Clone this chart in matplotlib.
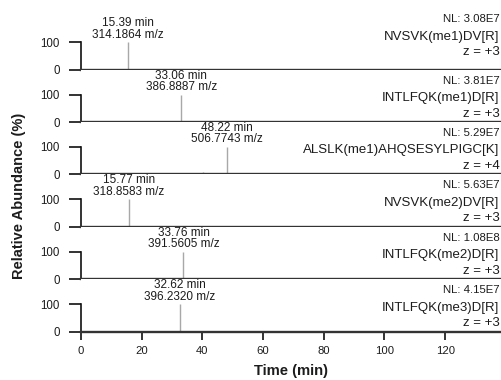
import matplotlib
matplotlib.use("Agg")
import matplotlib.pyplot as plt
from matplotlib import font_manager

plt.rcParams['font.family'] = ['Liberation Sans', 'DejaVu Sans']
_names = {f.name for f in font_manager.fontManager.ttflist}
narrow = 'Liberation Sans Narrow' if 'Liberation Sans Narrow' in _names else 'Liberation Sans'

# ---- data ----
peak_times = [[15.39], [33.06], [48.22, 40.2], [15.77], [33.76], [32.62, 11.7]]
peak_heights = [[100], [100], [100, 8], [100], [100], [100, 1.5]]
ann_time = ["15.39 min", "33.06 min", "48.22 min", "15.77 min", "33.76 min", "32.62 min"]
ann_mz = ["314.1864 m/z", "386.8887 m/z", "506.7743 m/z", "318.8583 m/z", "391.5605 m/z", "396.2320 m/z"]
ann_x = [15.39, 33.06, 48.22, 15.77, 33.76, 32.62]
nl_labels = ["NL: 3.08E7", "NL: 3.81E7", "NL: 5.29E7", "NL: 5.63E7", "NL: 1.08E8", "NL: 4.15E7"]
peptides = ["NVSVK(me1)DV[R]", "INTLFQK(me1)D[R]", "ALSLK(me1)AHQSESYLPIGC[K]",
            "NVSVK(me2)DV[R]", "INTLFQK(me2)D[R]", "INTLFQK(me3)D[R]"]
charges = ["z = +3", "z = +3", "z = +4", "z = +3", "z = +3", "z = +3"]
x_ticks = [0, 20, 40, 60, 80, 100, 120]
y_ticks = [0, 100]

W, H = 501, 380
fig = plt.figure(figsize=(W / 100, H / 100), dpi=100)
px = 72 / 100  # points per pixel
txt = '#1c1c1c'

left, right = 81 / W, 1.0
bottom, top = 1 - 331.7 / H, 1 - 17.3 / H
n = len(peptides)
gs = fig.add_gridspec(n, 1, left=left, right=right, bottom=bottom, top=top, hspace=0)

lift = [9, 0, 0, 0, 0, 0]  # px extra lift of right labels

for i in range(n):
    ax = fig.add_subplot(gs[i, 0])
    ax.set_xlim(0, 138.4)
    ax.set_ylim(0, 190)
    ax.vlines(peak_times[i], 0, peak_heights[i], color='#a8a8a8', lw=1.0, zorder=1)
    for s in ['top', 'right']:
        ax.spines[s].set_visible(False)
    ax.spines['left'].set_bounds(0, 100)
    ax.spines['left'].set_linewidth(1.2)
    ax.spines['left'].set_color('#111111')
    ax.spines['bottom'].set_linewidth(1.7)
    ax.spines['bottom'].set_color('#333333')
    ax.spines['bottom'].set_zorder(3)
    ax.set_yticks(y_ticks)
    ax.set_yticklabels([str(v) for v in y_ticks], fontfamily=narrow)
    ax.tick_params(axis='y', length=8.3, width=1.2, pad=7.0, labelsize=8.3,
                   color='#111111', labelcolor=txt)
    ax.set_xticks(x_ticks)
    if i == n - 1:
        ax.set_xticklabels([str(v) for v in x_ticks])
        ax.tick_params(axis='x', length=6, width=1.2, pad=4, labelsize=8.1,
                       color='#111111', labelcolor=txt)
    else:
        ax.tick_params(axis='x', length=0, labelbottom=False)

    # peak annotation
    ax.annotate(ann_mz[i], xy=(ann_x[i], 100), xytext=(0, 7.5 * px), textcoords='offset points',
                ha='center', va='center', fontsize=8.5, color=txt)
    ax.annotate(ann_time[i], xy=(ann_x[i], 100), xytext=(0, 19 * px), textcoords='offset points',
                ha='center', va='center', fontsize=8.5, color=txt)

    # right labels
    L = lift[i]
    ax.annotate(nl_labels[i], xy=(1, 0), xycoords='axes fraction',
                xytext=(-1.5 * px, (41.5 + L) * px), textcoords='offset points',
                ha='right', va='center', fontsize=8.2, color=txt)
    ax.annotate(peptides[i], xy=(1, 0), xycoords='axes fraction',
                xytext=(-1.5 * px, (24 + L) * px), textcoords='offset points',
                ha='right', va='center', fontsize=9.5, color=txt)
    ax.annotate(charges[i], xy=(1, 0), xycoords='axes fraction',
                xytext=(-1.5 * px, (8.5 + L) * px), textcoords='offset points',
                ha='right', va='center', fontsize=9.5, color=txt)

fig.text(19 / W, 1 - 196 / H, "Relative Abundance (%)", rotation=90, ha='center', va='center',
         fontsize=10.5, fontweight='bold', color=txt)
fig.text(290.5 / W, 1 - 371 / H, "Time (min)", ha='center', va='center',
         fontsize=10.6, fontweight='bold', color=txt)

fig.savefig("out.png", dpi=100)
